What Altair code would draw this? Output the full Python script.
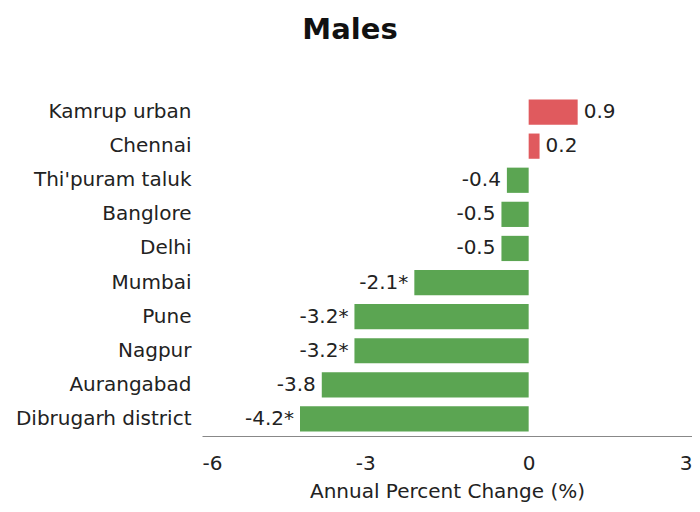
import altair as alt
import pandas as pd

regions = ["Kamrup urban", "Chennai", "Thi'puram taluk", "Banglore", "Delhi",
           "Mumbai", "Pune", "Nagpur", "Aurangabad", "Dibrugarh district"]
values = [0.9, 0.2, -0.4, -0.5, -0.5, -2.1, -3.2, -3.2, -3.8, -4.2]
labels = ["0.9", "0.2", "-0.4", "-0.5", "-0.5", "-2.1*", "-3.2*", "-3.2*", "-3.8", "-4.2*"]
x_ticks = [-6, -3, 0, 3]

df = pd.DataFrame({"region": regions, "value": values, "label": labels})
df["sign"] = ["pos" if v > 0 else "neg" for v in values]

FONT = "DejaVu Sans"
FS = 20

x = alt.X("value:Q", scale=alt.Scale(domain=[-6, 3], nice=False, zero=False),
          axis=alt.Axis(values=x_ticks, grid=False, ticks=False, domainColor="#888888",
                        labelExpr="'' + datum.value",
                        labelFontSize=FS, labelFont=FONT, labelColor="#222222", labelPadding=17,
                        title="Annual Percent Change (%)", titleFontSize=FS, titleFont=FONT,
                        titleFontWeight="normal", titleColor="#222222", titlePadding=8,
                        labelFlush=True))
y = alt.Y("region:N", sort=regions,
          scale=alt.Scale(paddingInner=0.26, paddingOuter=0.13),
          axis=alt.Axis(title=None, domain=False, ticks=False, labelFontSize=FS, labelFont=FONT,
                        labelColor="#222222", labelPadding=11, labelLimit=300))

base = alt.Chart(df)
bars = base.mark_bar().encode(
    x=x, y=y,
    color=alt.Color("sign:N", scale=alt.Scale(domain=["pos", "neg"], range=["#E05A5E", "#5BA552"]),
                    legend=None))
ysimple = alt.Y("region:N", sort=regions)
pos_text = base.transform_filter(alt.datum.value > 0).mark_text(
    align="left", dx=6, fontSize=FS, font=FONT, color="#222222").encode(x="value:Q", y=ysimple, text="label:N")
neg_text = base.transform_filter(alt.datum.value < 0).mark_text(
    align="right", dx=-6, fontSize=FS, font=FONT, color="#222222").encode(x="value:Q", y=ysimple, text="label:N")

chart = alt.layer(bars, pos_text, neg_text).properties(
    width=490, height=341,
    title=alt.TitleParams("Males", fontSize=29, font=FONT, fontWeight="bold", color="#111111",
                          anchor="middle", dx=-97, offset=50),
    autosize=alt.AutoSizeParams(type="none"),
    padding={"left": 194, "top": 87, "right": 0, "bottom": 68},
).configure_view(stroke=None)

chart.save("out.html", embed_options={"renderer": "svg", "actions": False})
